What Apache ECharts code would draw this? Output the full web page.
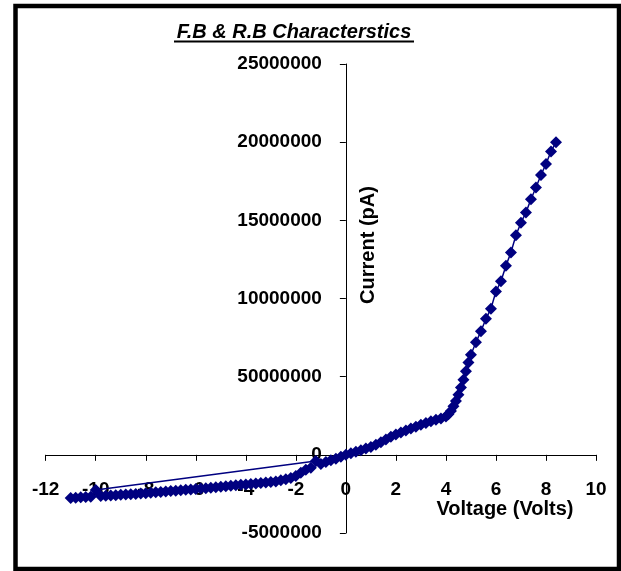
<!DOCTYPE html>
<html>
<head>
<meta charset="utf-8">
<script src="https://cdn.jsdelivr.net/npm/echarts@6/dist/echarts.min.js"></script>
<style>
  html, body { margin: 0; padding: 0; background: #fff; }
  #chart { width: 621px; height: 571px; }
</style>
</head>
<body>
<div id="chart"></div>
<script>
// readings in drawing order (the sweep jumps once from -1.2 V to -10 V)
var voltage = [
    -1.2,
    -10.0, -10.2, -10.4, -10.6, -10.8, -11.0,
    -9.8, -9.6, -9.4, -9.2, -9.0, -8.8, -8.6, -8.4, -8.2, -8.0,
    -7.8, -7.6, -7.4, -7.2, -7.0, -6.8, -6.6, -6.4, -6.2, -6.0,
    -5.8, -5.6, -5.4, -5.2, -5.0, -4.8, -4.6, -4.4, -4.2, -4.0,
    -3.8, -3.6, -3.4, -3.2, -3.0, -2.8, -2.6, -2.4, -2.2, -2.0,
    -1.8, -1.6, -1.4, -1.0, -0.8, -0.6, -0.4, -0.2, 0.0,
    0.2, 0.4, 0.6, 0.8, 1.0, 1.2, 1.4, 1.6, 1.8, 2.0,
    2.2, 2.4, 2.6, 2.8, 3.0, 3.2, 3.4, 3.6, 3.8, 4.0,
    4.1, 4.2, 4.3, 4.4, 4.5, 4.6, 4.7, 4.8, 4.9, 5.0,
    5.2, 5.4, 5.6, 5.8, 6.0, 6.2, 6.4, 6.6, 6.8, 7.0,
    7.2, 7.4, 7.6, 7.8, 8.0, 8.2, 8.4
];
var current = [
    -400000,
    -2250000, -2680000, -2700000, -2720000, -2740000, -2760000,
    -2640000, -2620000, -2600000, -2580000, -2560000, -2540000, -2520000, -2500000, -2480000, -2450000,
    -2420000, -2400000, -2370000, -2350000, -2320000, -2290000, -2270000, -2240000, -2210000, -2190000,
    -2160000, -2130000, -2100000, -2070000, -2040000, -2010000, -1980000, -1950000, -1920000, -1890000,
    -1860000, -1830000, -1800000, -1770000, -1740000, -1700000, -1630000, -1560000, -1480000, -1350000,
    -1150000, -950000, -820000, -580000, -460000, -350000, -250000, -130000, 0,
    100000, 200000, 300000, 400000, 500000, 650000, 800000, 980000, 1150000, 1300000,
    1430000, 1560000, 1680000, 1800000, 1920000, 2040000, 2150000, 2250000, 2330000, 2450000,
    2600000, 2800000, 3100000, 3450000, 3850000, 4300000, 4800000, 5350000, 5900000, 6400000,
    7200000, 7900000, 8700000, 9350000, 10450000, 11100000, 12100000, 12950000, 14050000, 14850000,
    15500000, 16350000, 17100000, 17900000, 18600000, 19400000, 20000000
];

// axis ticks, as printed on the original
var xTickLabels = ['-12', '-10', '-8', '-6', '-4', '-2', '0', '2', '4', '6', '8', '10'];
var yTickLabels = ['-5000000', '0', '50000000', '10000000', '15000000', '20000000', '25000000'];

var xMin = -12, xMax = 10, xStep = 2;
var yMin = -5000000, yMax = 25000000, yStep = 5000000;

var points = voltage.map(function (v, i) { return [v, current[i]]; });

// plot box
var W = 621, H = 571;
var gLeft = 45.7, gRight = 25, gTop = 64, gBottom = 38;
var gW = W - gLeft - gRight, gH = H - gTop - gBottom;

// axes cross at zero: shift them in from the grid edges
var xAxisOffset = -gH * (0 - yMin) / (yMax - yMin);
var yAxisOffset = -gW * (0 - xMin) / (xMax - xMin);

var myChart = echarts.init(document.getElementById('chart'));

var labelFont = {
    color: '#000',
    fontSize: 19,
    fontWeight: 'bold',
    fontFamily: 'Liberation Sans, Arial, sans-serif'
};

myChart.setOption({
    animation: false,
    backgroundColor: '#fff',
    grid: {
        left: gLeft,
        right: gRight,
        top: gTop,
        bottom: gBottom,
        containLabel: false,
        outerBoundsMode: 'none'
    },
    xAxis: {
        type: 'value',
        position: 'bottom',
        offset: xAxisOffset,
        min: xMin,
        max: xMax,
        interval: xStep,
        axisLine: { onZero: false, lineStyle: { color: '#000', width: 1 } },
        axisTick: { show: true, length: 6, lineStyle: { color: '#000' } },
        splitLine: { show: false },
        axisLabel: Object.assign({
            margin: 25,
            hideOverlap: false,
            formatter: function (v) {
                return xTickLabels[Math.round((v - xMin) / xStep)];
            }
        }, labelFont)
    },
    yAxis: {
        type: 'value',
        position: 'left',
        offset: yAxisOffset,
        min: yMin,
        max: yMax,
        interval: yStep,
        axisLine: { onZero: false, lineStyle: { color: '#000', width: 1 } },
        axisTick: { show: true, length: 6, lineStyle: { color: '#000' } },
        splitLine: { show: false },
        axisLabel: Object.assign({
            margin: 24,
            hideOverlap: false,
            formatter: function (v) {
                return yTickLabels[Math.round((v - yMin) / yStep)];
            }
        }, labelFont)
    },
    graphic: [
        {
            type: 'rect',
            shape: { x: 15.5, y: 6, width: 603.5, height: 563 },
            style: { fill: null, stroke: '#000', lineWidth: 4.5 },
            silent: true
        },
        {
            type: 'text',
            x: 294, y: 32,
            style: {
                text: 'F.B & R.B Characterstics',
                align: 'center', verticalAlign: 'middle',
                fill: '#000',
                font: 'italic bold 20px "Liberation Sans", Arial, sans-serif'
            }
        },
        {
            type: 'rect',
            shape: { x: 174, y: 40.5, width: 240, height: 2 },
            style: { fill: '#000' }
        },
        {
            type: 'text',
            x: 505, y: 509,
            style: {
                text: 'Voltage (Volts)',
                align: 'center', verticalAlign: 'middle',
                fill: '#000',
                font: 'bold 20px "Liberation Sans", Arial, sans-serif'
            }
        },
        {
            type: 'text',
            x: 368, y: 245,
            rotation: Math.PI / 2,
            style: {
                text: 'Current (pA)',
                align: 'center', verticalAlign: 'middle',
                fill: '#000',
                font: 'bold 20px "Liberation Sans", Arial, sans-serif'
            }
        }
    ],
    series: [
        {
            name: 'Current',
            type: 'line',
            data: points,
            symbol: 'diamond',
            symbolSize: 12,
            showAllSymbol: true,
            itemStyle: { color: '#000080' },
            lineStyle: { color: '#000080', width: 1.5 },
            z: 3
        }
    ]
});
</script>
</body>
</html>
